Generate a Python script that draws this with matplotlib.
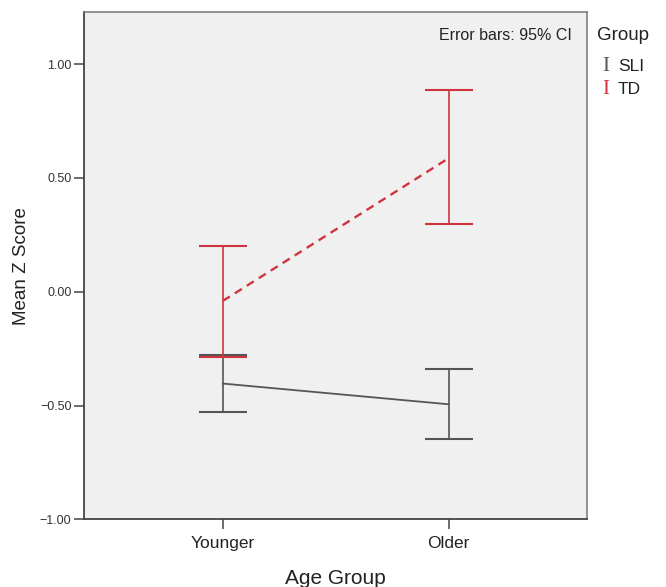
import matplotlib
matplotlib.use("Agg")
import matplotlib.pyplot as plt

# ---------- Data ----------
age_groups = ["Younger", "Older"]
x_pos = [1, 2]

sli_mean = [-0.403, -0.494]
sli_lower = [-0.530, -0.646]
sli_upper = [-0.278, -0.338]

td_mean = [-0.040, 0.587]
td_lower = [-0.287, 0.299]
td_upper = [0.199, 0.887]

yticks = [-1.0, -0.5, 0.0, 0.5, 1.0]
ytick_labels = ["\u22121.00", "\u22120.50", "0.00", "0.50", "1.00"]

SLI_COLOR = "#555555"
TD_COLOR = "#d0343f"

plt.rcParams["font.family"] = ["Liberation Sans", "DejaVu Sans"]

fig = plt.figure(figsize=(6.66, 5.87), dpi=100)
ax = fig.add_axes([0.126, 0.115, 0.755, 0.865])
ax.set_facecolor("#f0f0f0")


def draw_group(means, lower, upper, color, ls, lw):
    yerr = [[m - l for m, l in zip(means, lower)],
            [u - m for m, u in zip(means, upper)]]
    ax.plot(x_pos, means, color=color, linestyle=ls, linewidth=lw)
    ax.errorbar(x_pos, means, yerr=yerr, fmt="none", ecolor=color,
                elinewidth=1.2, capsize=17, capthick=1.5)


draw_group(sli_mean, sli_lower, sli_upper, SLI_COLOR, "-", 1.3)
draw_group(td_mean, td_lower, td_upper, TD_COLOR, (0, (3.5, 2.5)), 1.7)

ax.set_xlim(0.385, 2.611)
ax.set_ylim(-1.0, 1.23)
ax.set_xticks(x_pos)
ax.set_xticklabels(age_groups, fontsize=12.5, color="#222222")
ax.set_yticks(yticks)
ax.set_yticklabels(ytick_labels, fontsize=9, color="#333333")
ax.tick_params(axis="both", direction="out", length=7, width=1.1,
               color="#444444", pad=2)
ax.tick_params(axis="x", pad=5)

for side in ["left", "bottom"]:
    ax.spines[side].set_color("#444444")
    ax.spines[side].set_linewidth(1.3)
for side in ["top", "right"]:
    ax.spines[side].set_color("#777777")
    ax.spines[side].set_linewidth(1.1)

ax.set_ylabel("Mean Z Score", fontsize=13.5, color="#222222", labelpad=7)
ax.set_xlabel("Age Group", fontsize=15, color="#222222", labelpad=13)

ax.text(0.97, 0.953, "Error bars: 95% CI", transform=ax.transAxes,
        ha="right", va="center", fontsize=11.5, color="#222222")

# legend drawn as text, SPSS style
fig.text(0.896, 0.940, "Group", fontsize=13.5, color="#222222", va="center")
fig.text(0.904, 0.887, "I", fontsize=15, color=SLI_COLOR, va="center",
         family="Liberation Serif")
fig.text(0.928, 0.887, "SLI", fontsize=12.5, color="#222222", va="center")
fig.text(0.904, 0.848, "I", fontsize=15, color=TD_COLOR, va="center",
         family="Liberation Serif")
fig.text(0.928, 0.848, "TD", fontsize=12.5, color="#222222", va="center")

fig.savefig("out.png", dpi=100)
